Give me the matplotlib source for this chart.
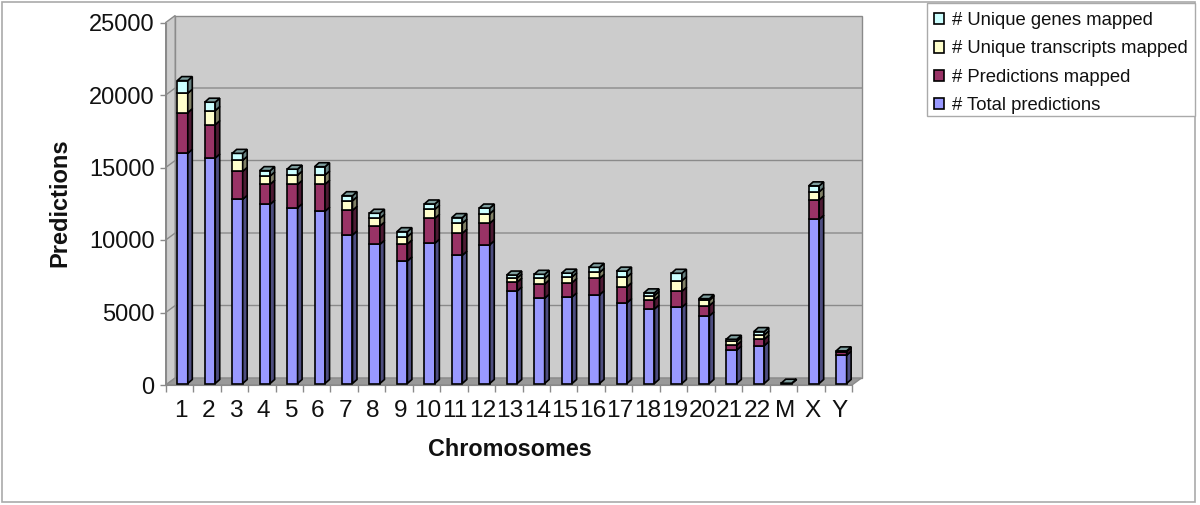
import numpy as np
import matplotlib
matplotlib.use("Agg")
import matplotlib.pyplot as plt
from matplotlib.patches import Polygon, Rectangle

plt.rcParams['font.family'] = ['Liberation Sans', 'DejaVu Sans']

chromosomes = ['1', '2', '3', '4', '5', '6', '7', '8', '9', '10', '11', '12', '13',
               '14', '15', '16', '17', '18', '19', '20', '21', '22', 'M', 'X', 'Y']
total = [15880, 15550, 12700, 12360, 12120, 11880, 10240, 9600, 8450, 9670, 8840, 9570, 6380,
         5880, 5970, 6120, 5570, 5140, 5260, 4660, 2310, 2610, 15, 11320, 1950]
pred_mapped = [2800, 2300, 1930, 1380, 1610, 1860, 1700, 1260, 1170, 1720, 1520, 1480, 610,
               980, 990, 1130, 1100, 640, 1100, 710, 345, 440, 3, 1330, 250]
transcripts = [1340, 970, 760, 570, 640, 640, 660, 530, 500, 620, 690, 660, 280,
               390, 390, 410, 670, 280, 730, 370, 255, 300, 2, 570, 30]
genes = [870, 580, 480, 370, 410, 570, 350, 350, 350, 370, 390, 390, 210,
         280, 260, 350, 410, 190, 510, 110, 140, 230, 1, 410, 20]

series = [('# Total predictions', total, '#9999ff'),
          ('# Predictions mapped', pred_mapped, '#993366'),
          ('# Unique transcripts mapped', transcripts, '#ffffcc'),
          ('# Unique genes mapped', genes, '#ccffff')]

GREY = '#8a8a8a'
EDGE = 1.2

fig = plt.figure(figsize=(12, 5.05), dpi=100)
fig.add_artist(Rectangle((2 / 1200, 1 - 502 / 505), 1192.5 / 1200, 500 / 505, transform=fig.transFigure,
                         fc='none', ec='#aaaaaa', lw=1.2))
fig.add_artist(Rectangle((927 / 1200, 1 - 116 / 505), 267.5 / 1200, 113 / 505, transform=fig.transFigure,
                         fc='white', ec='#aaaaaa', lw=1))

# front plane of the 3D box is the axes itself
L, R, T, B = 165.7, 852, 22.5, 385
ax = fig.add_axes([L / 1200, 1 - B / 505, (R - L) / 1200, (B - T) / 505])
ax.patch.set_alpha(0)
ax.set_xlim(0, 25)
ax.set_ylim(0, 25000)
px_x = 25 / (R - L)
px_y = 25000 / (B - T)

# box depth
wx, wy = 9.5 * px_x, 7 * px_y
ax.add_patch(Polygon([(wx, wy), (25 + wx, wy), (25 + wx, 25000 + wy), (wx, 25000 + wy)], fc='#cccccc', ec=GREY,
                     lw=1, clip_on=False, zorder=0))
ax.add_patch(Polygon([(0, 0), (wx, wy), (wx, 25000 + wy), (0, 25000)], fc='#cccccc', ec=GREY, lw=1,
                     clip_on=False, zorder=0))
ax.add_patch(Polygon([(0, 0), (25, 0), (25 + wx, wy), (wx, wy)], fc='#999999', ec=GREY, lw=1,
                     clip_on=False, zorder=0))
for v in range(5000, 25000, 5000):
    ax.plot([0, wx, 25 + wx], [v, v + wy, v + wy], color=GREY, lw=1, clip_on=False, zorder=1)

# bars
x = np.arange(len(chromosomes)) + 0.5 + 3.1 * px_x
width = 10.5 * px_x
dx, dy = 4.5 * px_x, 4 * px_y
bottom = np.full(len(chromosomes), 1.5 * px_y)
for k, (name, vals, col) in enumerate(series):
    vals = np.array(vals, dtype=float)
    rgb = np.array(matplotlib.colors.to_rgb(col))
    ax.bar(x, vals, width, bottom=bottom, color=col, edgecolor='black', linewidth=EDGE, label=name,
           clip_on=False, zorder=3)
    for xi, b, v in zip(x, bottom, vals):
        xr = xi + width / 2
        ax.add_patch(Polygon([(xr, b), (xr + dx, b + dy), (xr + dx, b + v + dy), (xr, b + v)], fc=rgb * 0.5,
                             ec='black', lw=EDGE, clip_on=False, zorder=3))
        if k == len(series) - 1:
            xl = xi - width / 2
            t = b + v
            ax.add_patch(Polygon([(xl, t), (xr, t), (xr + dx, t + dy), (xl + dx, t + dy)], fc=rgb * 0.62,
                                 ec='black', lw=EDGE, clip_on=False, zorder=3))
    bottom = bottom + vals

for s in ['top', 'right']:
    ax.spines[s].set_visible(False)
for s in ['left', 'bottom']:
    ax.spines[s].set_color(GREY)
    ax.spines[s].set_zorder(2)

ax.set_xticks(np.arange(26))
ax.set_xticklabels([])
ax.set_xticks(np.arange(len(chromosomes)) + 0.55, labels=chromosomes, minor=True)
ax.tick_params(axis='x', which='major', color=GREY, length=5, width=1)
ax.tick_params(axis='x', which='minor', length=0, pad=11, labelsize=17.6, labelcolor='#111111')
ax.set_yticks(range(0, 25001, 5000))
ax.tick_params(axis='y', color=GREY, length=4, width=1, pad=4, labelsize=17, labelcolor='#111111')

fig.text(60 / 1200, 1 - 203 / 505, 'Predictions', rotation=90, ha='center', va='center',
         fontsize=17, fontweight='bold', color='#111111')
fig.text(509.7 / 1200, 1 - 450 / 505, 'Chromosomes', ha='center', va='center',
         fontsize=16.8, fontweight='bold', color='#111111')

h, l = ax.get_legend_handles_labels()
leg = fig.legend(h[::-1], l[::-1], loc='upper left', bbox_to_anchor=(927 / 1200, 1 - 5 / 505), borderaxespad=0,
                 fontsize=13.3, labelspacing=0.62, handlelength=0.55, handleheight=0.55, handletextpad=0.42,
                 borderpad=0.38, frameon=False, labelcolor='#111111')

fig.savefig('out.png', dpi=100)
